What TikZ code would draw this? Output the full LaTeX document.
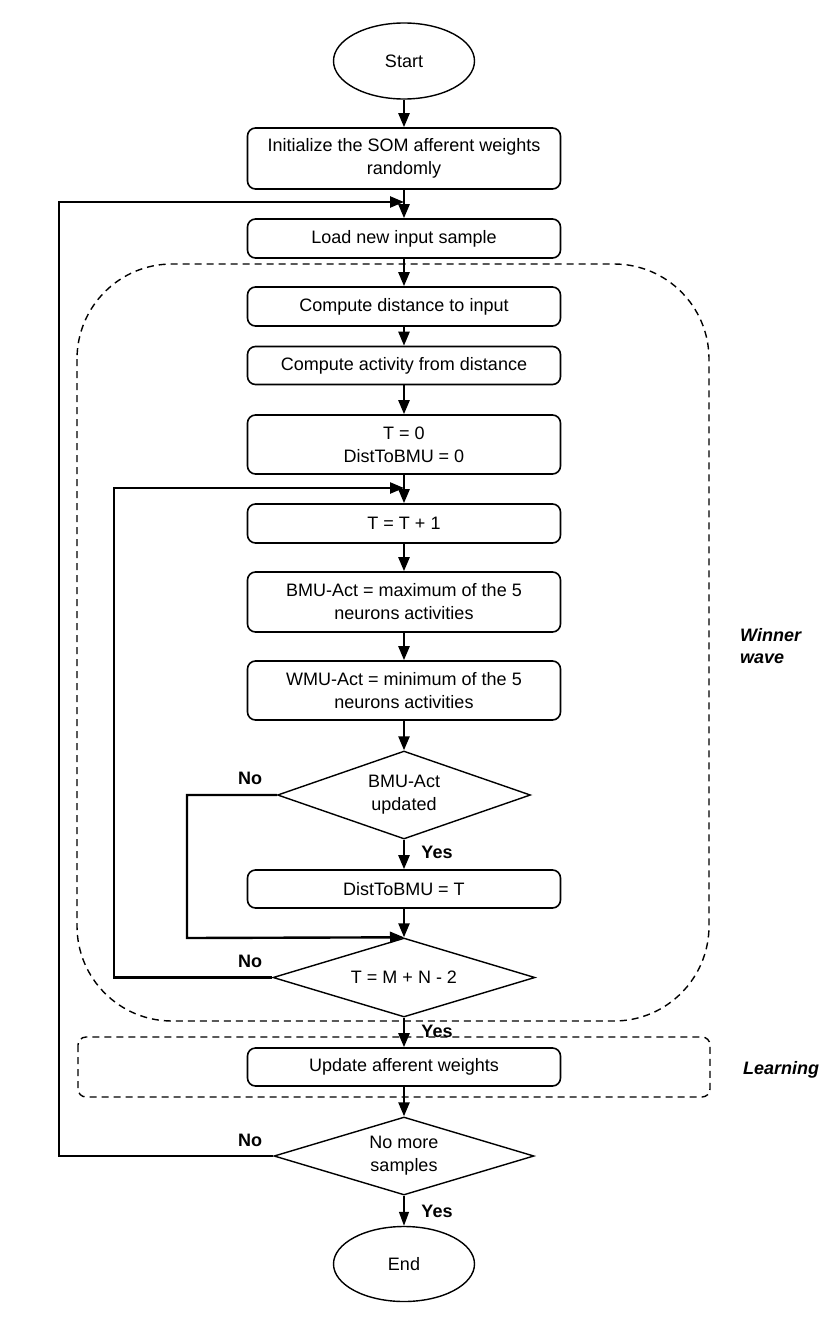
\documentclass[tikz,border=0pt]{standalone}
\usepackage{fontspec}
\setmainfont{Liberation Sans}
\usetikzlibrary{shapes.geometric,arrows.meta}
\begin{document}
\begin{tikzpicture}[x=1pt,y=-1pt,
  box/.style={draw,rounded corners=8pt,line width=1.6pt,minimum width=313pt,inner sep=0pt,align=center,font=\fontsize{18}{23}\selectfont},
  term/.style={draw,ellipse,line width=1.4pt,minimum width=141pt,minimum height=76pt,inner sep=0pt,font=\fontsize{18}{23}\selectfont},
  dec/.style={draw,diamond,line width=1.4pt,inner sep=0pt,aspect=2.9,align=center,font=\fontsize{18}{23}\selectfont},
  arr/.style={line width=2.4pt,-{Triangle[length=14pt,width=11pt]}},
  thinarr/.style={line width=1.3pt,-{Triangle[length=14pt,width=10pt]}},
  lab/.style={font=\bfseries\fontsize{18}{22}\selectfont,inner sep=0pt},
  grp/.style={dashed,line width=1.4pt,dash pattern=on 7pt off 5pt},
  side/.style={font=\bfseries\itshape\fontsize{18}{22}\selectfont,inner sep=0pt,align=left}]
\useasboundingbox (0,0) rectangle (831,1322);
% group frames
\draw[grp,rounded corners=95pt] (77,264) rectangle (709,1021);
\draw[grp,rounded corners=8pt] (78,1037) rectangle (710,1097);
% nodes
\node[term] (start) at (404,61) {Start};
\node[box,minimum height=61pt] (init) at (404,158.5) {Initialize the SOM afferent weights\\randomly};
\node[box,minimum height=39pt] (load) at (404,238.5) {Load new input sample};
\node[box,minimum height=39pt] (dist) at (404,306.5) {Compute distance to input};
\node[box,minimum height=38pt] (act) at (404,365.5) {Compute activity from distance};
\node[box,minimum height=59pt] (t0) at (404,444.5) {T = 0\\DistToBMU = 0};
\node[box,minimum height=39pt] (tinc) at (404,523.5) {T = T + 1};
\node[box,minimum height=60pt] (bmu) at (404,602) {BMU-Act = maximum of the 5\\neurons activities};
\node[box,minimum height=59pt] (wmu) at (404,690.5) {WMU-Act = minimum of the 5\\neurons activities};
\node[dec,minimum width=253pt,minimum height=88pt] (d1) at (404,795) {BMU-Act\\updated};
\node[box,minimum height=38pt] (dtb) at (404,889) {DistToBMU = T};
\node[dec,minimum width=262pt,minimum height=79pt] (d2) at (404,977.5) {T = M + N - 2};
\node[box,minimum height=38pt] (upd) at (404,1067) {Update afferent weights};
\node[dec,minimum width=260pt,minimum height=78pt] (d3) at (404,1156) {No more\\samples};
\node[term,minimum height=75pt] (end) at (404,1264) {End};
% junction coordinates
\coordinate (j1) at (404,202);
\coordinate (j2) at (404,488);
\coordinate (k1) at (59,1156);
\coordinate (k1b) at (59,202);
\coordinate (k2) at (114,977.5);
\coordinate (k2b) at (114,488);
\coordinate (k3) at (187,795);
\coordinate (k3b) at (187,938);
% connectors
\draw[arr] (start) -- (init);
\draw[arr] (init) -- (load);
\draw[arr] (load) -- (dist);
\draw[arr] (dist) -- (act);
\draw[arr] (act) -- (t0);
\draw[arr] (t0) -- (tinc);
\draw[arr] (tinc) -- (bmu);
\draw[arr] (bmu) -- (wmu);
\draw[arr] (wmu) -- (d1);
\draw[arr] (d1) -- (dtb);
\draw[arr] (dtb) -- (d2);
\draw[arr] (d2) -- (upd);
\draw[arr] (upd) -- (d3);
\draw[thinarr] (d3) -- (end);
% loops
\draw[arr] (d3.west) -- (k1) -- (k1b) -- (j1);
\draw[arr] (d2.west) -- (k2) -- (k2b) -- (j2);
\draw[arr] (d1.west) -- (k3) -- (k3b) -- (d2.north);
% labels
\node[lab] (no1) at (250,778) {No};
\node[lab] (yes1) at (437,852) {Yes};
\node[lab] (no2) at (250,961) {No};
\node[lab] (yes2) at (437,1031) {Yes};
\node[lab] (no3) at (250,1140) {No};
\node[lab] (yes3) at (437,1211) {Yes};
\node[side,anchor=west] (ww) at (740,646) {Winner\\wave};
\node[side,anchor=west] (learn) at (743,1070) {Learning};
\end{tikzpicture}
\end{document}
